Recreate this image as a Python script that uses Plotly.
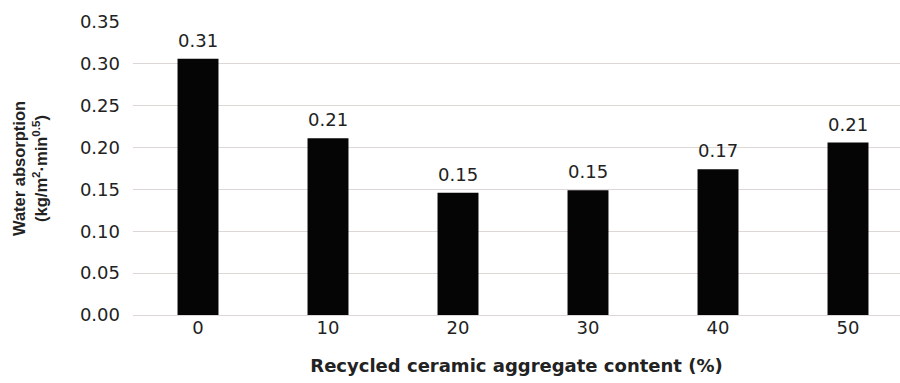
import plotly.graph_objects as go

# Water absorption by recycled ceramic aggregate content
content_pct = ["0", "10", "20", "30", "40", "50"]
absorption = [0.306, 0.211, 0.146, 0.149, 0.174, 0.206]
y_ticks = [0.00, 0.05, 0.10, 0.15, 0.20, 0.25, 0.30, 0.35]

WIDE = "DejaVu Sans, Verdana, sans-serif"
NARROW = "Liberation Sans, Arial, sans-serif"
TEXT_COLOR = "#222222"
GRID_COLOR = "#ddd7d5"

fig = go.Figure(
    go.Bar(
        x=content_pct,
        y=absorption,
        width=0.315,
        marker=dict(color="#050505", line=dict(width=0)),
        hoverinfo="x+y",
    )
)

# value labels above each bar (category axis: x given as category index)
for idx, val in enumerate(absorption):
    fig.add_annotation(
        x=idx,
        y=val,
        xref="x",
        yref="y",
        text=f"{val:.2f}",
        showarrow=False,
        yanchor="bottom",
        yshift=6,
        font=dict(family=WIDE, size=18, color=TEXT_COLOR),
    )

fig.update_layout(
    width=900,
    height=383,
    margin=dict(l=133, r=0, t=22, b=68),
    paper_bgcolor="white",
    plot_bgcolor="white",
    showlegend=False,
    font=dict(family=WIDE, color=TEXT_COLOR),
)

fig.update_xaxes(
    type="category",
    range=[-0.5, 5.4],
    showgrid=False,
    showline=False,
    ticks="",
    tickfont=dict(family=WIDE, size=18, color=TEXT_COLOR),
    title=dict(
        text="<b>Recycled ceramic aggregate content (%)</b>",
        font=dict(family=WIDE, size=18, color=TEXT_COLOR),
        standoff=22,
    ),
)

fig.update_yaxes(
    range=[0, 0.35],
    tickvals=y_ticks,
    ticktext=[f"{v:.2f}" for v in y_ticks],
    showgrid=True,
    gridcolor=GRID_COLOR,
    gridwidth=1,
    zeroline=True,
    zerolinecolor=GRID_COLOR,
    zerolinewidth=1,
    showline=False,
    ticks="",
    ticklabelstandoff=12,
    tickfont=dict(family=WIDE, size=18, color=TEXT_COLOR),
    title=dict(
        text="<b>Water absorption<br>(kg/m<sup>2</sup>·min<sup>0.5</sup>)</b>",
        font=dict(family=NARROW, size=16.5, color=TEXT_COLOR),
        standoff=28,
    ),
)

fig.write_html("out.html")
